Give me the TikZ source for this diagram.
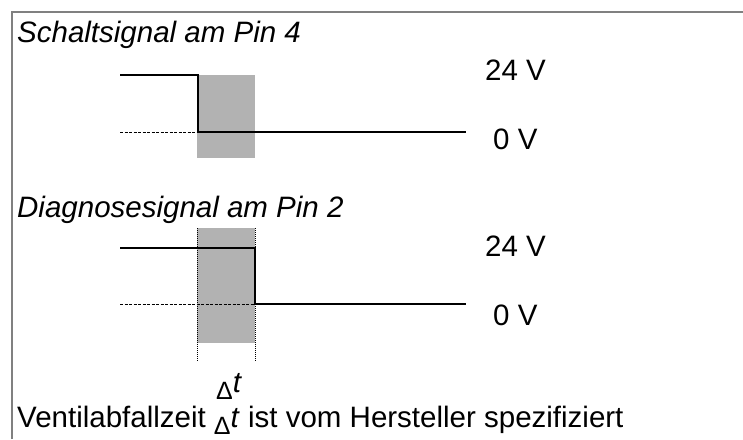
\documentclass[tikz,border=0pt]{standalone}
\usepackage{fontspec}
\setmainfont{Liberation Sans}
\definecolor{framegray}{HTML}{808080}
\definecolor{boxgray}{HTML}{B2B2B2}
\newcommand{\dlt}{{\fontsize{25}{25}\selectfont\raisebox{-7pt}{Δ}}}
\begin{document}
\begin{tikzpicture}[x=1pt,y=-1pt,
  sig/.style={line width=2pt, line join=miter},
  baseline/.style={dash pattern=on 3pt off 1.5pt, line width=0.9pt},
  guide/.style={dash pattern=on 1pt off 1pt, line width=0.8pt},
  lbl/.style={anchor=base west, inner sep=0pt, font=\fontsize{29.5}{33}\selectfont},
  fr/.style={draw=framegray, line width=2pt}]
\useasboundingbox (0,0) rectangle (743,439);
% frame (only top and left visible)
\draw[fr] (11.5,439) -- (11.5,11.5) -- (743,11.5);
% shaded delay windows
\fill[boxgray] (197,75) rectangle (255,158);
\fill[boxgray] (197,228) rectangle (255,343);
% top signal
\coordinate (a0) at (120,132);
\coordinate (a1) at (198,132);
\coordinate (ah0) at (120,75);
\coordinate (ah1) at (198,75);
\coordinate (aend) at (466,132);
\draw[baseline] (a0) -- (a1);
\draw[sig] (ah0) -- (ah1) -- (a1) -- (aend);
% bottom signal
\coordinate (b0) at (120,304);
\coordinate (b1) at (255,304);
\coordinate (bh0) at (120,248);
\coordinate (bh1) at (255,248);
\coordinate (bend) at (466,304);
\draw[baseline] (b0) -- (b1);
\draw[sig] (bh0) -- (bh1) -- (b1) -- (bend);
% guide lines
\coordinate (g1t) at (197,228);
\coordinate (g1b) at (197,362);
\coordinate (g2t) at (255,228);
\coordinate (g2b) at (255,362);
\draw[guide] (g1t) -- (g1b);
\draw[guide] (g2t) -- (g2b);
% texts
\node[lbl] (t1) at (17,42) {\itshape Schaltsignal am Pin 4};
\node[lbl] (v1) at (485,80) {24 V};
\node[lbl] (z1) at (493,149) {0 V};
\node[lbl] (t2) at (17,217) {\itshape Diagnosesignal am Pin 2};
\node[lbl] (v2) at (485,256) {24 V};
\node[lbl] (z2) at (493,325) {0 V};
\node[lbl] (dt) at (216,392) {\dlt\textit{t}};
\node[lbl] (ft) at (17,427) {Ventilabfallzeit \dlt\textit{t} ist vom Hersteller spezifiziert};
\end{tikzpicture}
\end{document}
